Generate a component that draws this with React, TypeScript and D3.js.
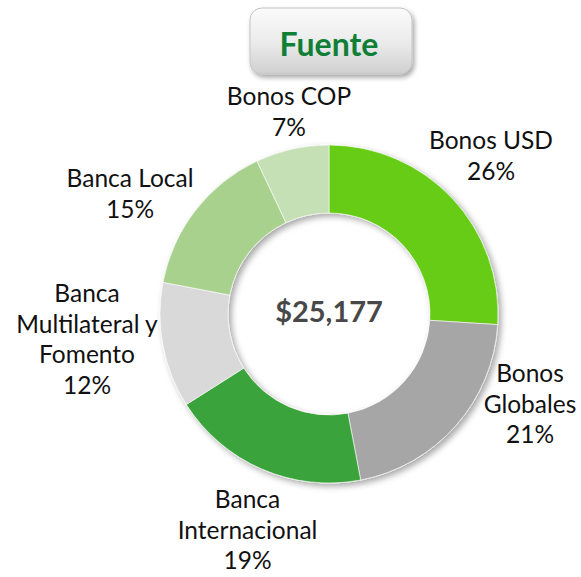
import React from "react";
import * as d3 from "d3";

const categories = [
  "Bonos USD",
  "Bonos Globales",
  "Banca Internacional",
  "Banca Multilateral y Fomento",
  "Banca Local",
  "Bonos COP",
];
const values = [26, 21, 19, 12, 15, 7];
const labelLines = [
  ["Bonos USD"],
  ["Bonos", "Globales"],
  ["Banca", "Internacional"],
  ["Banca", "Multilateral y", "Fomento"],
  ["Banca Local"],
  ["Bonos COP"],
];
const totalLabel = "$25,177";
const titleText = "Fuente";

const colors = ["#66CC14", "#A6A6A6", "#3AA33A", "#D9D9D9", "#A9D18E", "#C5E0B4"];
// label anchor offsets from the donut centre (first-line baseline)
const labelOffsets: [number, number][] = [
  [162, -165],
  [201, 68],
  [-81.5, 194],
  [-242, -12],
  [-199, -127],
  [-40, -209],
];

const W = 581;
const H = 577;
const cx = 329;
const cy = 314;
const outerR = 169;
const innerR = 101;
const lineH = 30.5;
const FONT = "Lato, 'Open Sans', sans-serif";

export default function App() {
  const pie = d3
    .pie<number>()
    .sort(null)
    .value((d) => d)
    .startAngle(0)
    .endAngle(2 * Math.PI);
  const arcs = pie(values);
  const arc = d3.arc<d3.PieArcDatum<number>>().innerRadius(innerR).outerRadius(outerR);
  const total = d3.sum(values);
  const fmt = d3.format(".0%");

  return (
    <svg
      width={W}
      height={H}
      viewBox={`0 0 ${W} ${H}`}
      style={{ position: "absolute", left: 0, top: 0, background: "#fff" }}
    >
      <defs>
        <filter id="ringShadow" x="-20%" y="-20%" width="140%" height="140%">
          <feDropShadow dx="3" dy="3" stdDeviation="3" floodColor="#000" floodOpacity="0.35" />
        </filter>
        <filter id="boxShadow" x="-20%" y="-30%" width="140%" height="160%">
          <feDropShadow dx="2" dy="3" stdDeviation="2.5" floodColor="#000" floodOpacity="0.35" />
        </filter>
        <linearGradient id="boxGrad" x1="0" y1="0" x2="0" y2="1">
          <stop offset="0%" stopColor="#FBFBFB" />
          <stop offset="55%" stopColor="#EAEAEA" />
          <stop offset="100%" stopColor="#CFCFCF" />
        </linearGradient>
      </defs>

      {/* title box */}
      <g filter="url(#boxShadow)">
        <rect x={250} y={8} width={162} height={66} rx={12} ry={12} fill="url(#boxGrad)" stroke="#C4C4C4" strokeWidth={1} />
      </g>
      <text
        x={329}
        y={56}
        textAnchor="middle"
        fontFamily={FONT}
        fontWeight={700}
        fontSize={32}
        fill="#0F7F36"
      >
        {titleText}
      </text>

      {/* donut */}
      <g transform={`translate(${cx},${cy})`} filter="url(#ringShadow)">
        {arcs.map((a, i) => (
          <path key={categories[i]} d={arc(a) || ""} fill={colors[i]} stroke="#fff" strokeWidth={0.6} />
        ))}
      </g>

      <text
        x={cx}
        y={cy + 8}
        textAnchor="middle"
        fontFamily={FONT}
        fontWeight={700}
        fontSize={29}
        fill="#484848"
      >
        {totalLabel}
      </text>

      {/* labels */}
      {arcs.map((a, i) => {
        const lines = [...labelLines[i], fmt(values[i] / total)];
        const [dx, dy] = labelOffsets[i];
        return (
          <text
            key={"l" + i}
            x={cx + dx}
            y={cy + dy}
            textAnchor="middle"
            fontFamily={FONT}
            fontSize={24.5}
            fill="#111"
          >
            {lines.map((t, j) => (
              <tspan key={j} x={cx + dx} dy={j === 0 ? 0 : lineH}>
                {t}
              </tspan>
            ))}
          </text>
        );
      })}
    </svg>
  );
}
